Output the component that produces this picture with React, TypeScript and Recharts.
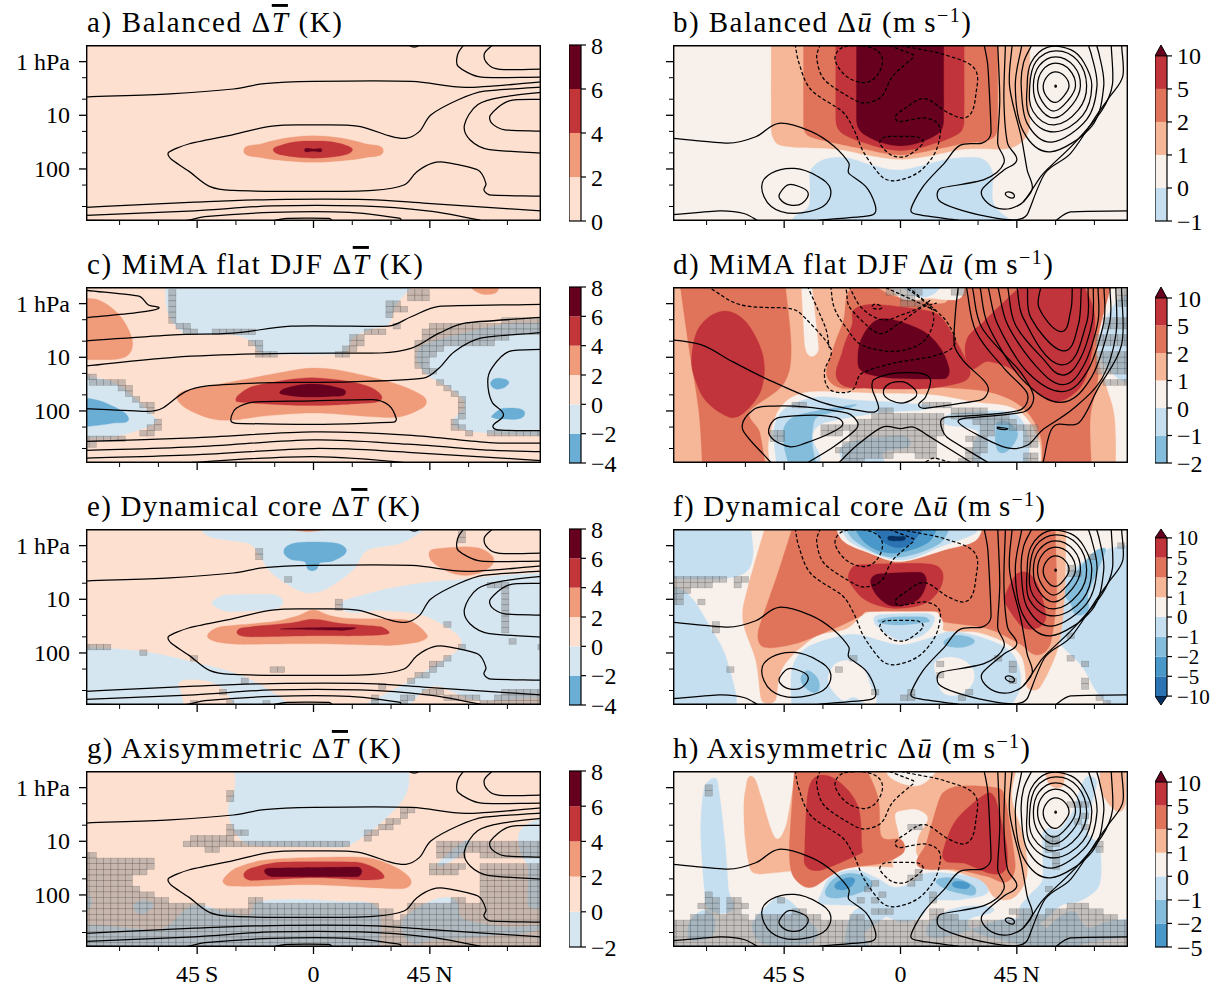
import React from 'react';
import { ScatterChart, Scatter, XAxis, YAxis, ComposedChart, Bar } from 'recharts';

type P = [number, number];
const FONT = '"Liberation Serif", serif';

/* ---------- colours ---------- */
const T_N4 = '#6aaed6', T_N2 = '#d6e6f0', T_0 = '#fde0d0', T_2 = '#f09c7b', T_4 = '#c23639', T_6 = '#67001f';
const U_M10 = '#053061', U_N10 = '#2b73b3', U_N5 = '#4a98c9', U_N2 = '#84bcdb', U_N1 = '#c6dff0', U_0 = '#f8f0eb', U_1 = '#f6b798', U_2 = '#e0745a', U_5 = '#c2343b', U_10 = '#67001f';

/* ---------- axis ticks ---------- */
const latTicks = [-75, -60, -45, -30, -15, 0, 15, 30, 45, 60, 75];
const levelTicks = [0, 0.3, 0.7, 1, 1.3, 1.7, 2, 2.3, 2.7];
const levelLabels: Record<number, string> = { 0: '1 hPa', 1: '10', 2: '100' };
const latLabels: Record<number, string> = { [-45]: '45\u2009S', 0: '0', 45: '45\u2009N' };
const FULL: P[] = [[-130, -1], [130, -1], [130, 4], [-130, 4]];
const FRAME: P[] = [[-88, -0.31], [88, -0.31], [88, 2.97], [-88, 2.97], [-88, -0.31]];

/* ---------- shared contours: temperature (a, e, g) ---------- */
const tA1: P[] = [[-88.4, .66], [-55.5, .6], [-31, .51], [-19, .41], [0, .37], [38, .37], [59, .48], [90, .37]];
const tA2: P[] = [[58.4, -.33], [55.8, -.14], [56, .09], [65, .29], [90, .29]];
const tA3: P[] = [[69.7, -.33], [66, -.13], [68.5, .09], [74, .15], [90, .14]];
const tA4: P[] = [[90, .47], [66, .55], [56, .71], [45.5, .99], [41, 1.3], [35.7, 1.43], [29, 1.38], [17, 1.2], [0, 1.18], [-16, 1.2], [-31, 1.36], [-48, 1.53], [-56, 1.69], [-55, 1.82], [-48, 2.05], [-40, 2.33], [-31, 2.4], [0, 2.42], [23, 2.4], [35, 2.3], [40, 2.05], [46, 1.89], [51.6, 1.88], [63.6, 2.02], [66.7, 2.27], [66, 2.4], [69, 2.49], [90, 2.51]];
const tA5: P[] = [[90, .56], [74.2, .65], [63.6, .8], [58.4, 1.18], [60.6, 1.46], [68, 1.64], [90, 1.71]];
const tA6: P[] = [[90, .7], [75.7, .73], [68.5, .99], [69, 1.15], [74, 1.27], [90, 1.3]];
const tA7: P[] = [[-90, 2.72], [-46, 2.62], [-16, 2.57], [21, 2.57], [44, 2.64], [90, 2.79]];
const tA8: P[] = [[-90, 2.87], [-46, 2.78], [-16, 2.69], [18, 2.69], [44, 2.78], [64, 2.95], [66, 3]];
const tA9: P[] = [[-90, 2.96], [-51, 2.97], [-42, 2.89], [-16, 2.81], [14, 2.81], [33.5, 2.92], [34, 3]];
const tA10: P[] = [[-19, 3], [-10, 2.92], [6, 2.92], [8, 3]];
const tA11: P[] = [[35.7, -.33], [39, -.27], [42, -.33]];
const tAContours = [tA1, tA2, tA3, tA4, tA5, tA6, tA7, tA8, tA9, tA10, tA11];

/* ---------- shared contours: wind (b, f, h) ---------- */
const uS1: P[] = [[-90, 1.42], [-66.7, 1.52], [-56, 1.4], [-47, 1.15], [-34.7, 1.3], [-25.6, 1.58], [-20, 1.89], [-20, 2.08], [-13.4, 2.33], [-10, 2.64], [-10, 2.83], [-15, 2.89], [-30, 2.95], [-36, 3]];
const uS1b: P[] = [[-90, 2.86], [-70, 2.78], [-60.6, 2.83], [-54, 3]];
const uS2: P[] = [[32.3, -.33], [33.8, .09], [35, 1.33], [31.5, 1.52], [23, 1.56], [17, 1.89], [8.7, 2.33], [4, 2.77], [8, 2.86], [21.6, 2.95], [26, 3]];
const uS3: P[] = [[-53.7, 2.33], [-50, 2.08], [-41, 1.99], [-32, 2.14], [-27, 2.39], [-30, 2.7], [-41, 2.83], [-50, 2.7]];
const uS4: P[] = [[-46.6, 2.45], [-43, 2.29], [-36, 2.42], [-38, 2.64], [-43, 2.67], [-46.6, 2.56]];
const uS5: P[] = [[37.6, -.33], [38.4, .71], [37.6, 1.52], [40, 1.89], [32.3, 2.2], [15.5, 2.36], [14.8, 2.58], [21.6, 2.74], [33.8, 2.89], [44, 2.95], [49, 2.85], [55.9, 2.08], [65.8, 1.71], [76.4, .96], [81, .65], [86, .27], [85.5, -.33]];
const uS6: P[] = [[40.6, -.33], [40, .71], [41.4, 1.52], [45, 1.83], [40, 2.02], [31.5, 2.39], [33.8, 2.64], [40, 2.75], [46, 2.67], [49, 2.52], [54.3, 2.14], [57.3, 1.98], [67.3, 1.52], [78, .9], [82, .42], [81.5, -.33]];
const uS7: P[] = [[43.2, -.33], [42.2, .46], [46.7, 1.4], [49, 2.02], [51, 2.36], [47.5, 2.62]];
const uJ1: P[] = [[55.2, .45], [57, .26], [60, .19], [63.5, .27], [65.2, .45], [63.5, .62], [60, .76], [56.5, .65]];
const uJ2: P[] = [[53, .45], [55, .16], [60, .03], [65.5, .16], [67.7, .45], [65, .71], [59.5, .92], [54.8, .74]];
const uJ3: P[] = [[51.4, .45], [53.6, .08], [60, -.09], [67, .08], [69.6, .45], [66.5, .8], [59.5, 1.05], [53.3, .83]];
const uJ4: P[] = [[50, .45], [52.4, 0], [60, -.2], [68.5, -.02], [72, .45], [68.8, .9], [59.5, 1.18], [51.3, .93]];
const uJ5: P[] = [[49, .45], [50.5, .02], [57, -.27], [66, -.22], [71, .02], [74, .45], [70.5, 1], [59.5, 1.31], [50, 1.02]];
const uJ6: P[] = [[51, -.33], [47.6, .02], [46.7, .46], [49, 1.15], [58.5, 1.5], [72, 1.08], [76, .46], [74, -.1], [72.5, -.33]];
const uJ7: P[] = [[47, -.33], [44.4, .46], [47.5, 1.3], [58, 1.68], [74, 1.2], [78.6, .46], [77, -.1], [75.7, -.33]];
const uTiny: P[] = [[40.6, 2.45], [43, 2.44], [44, 2.52], [42, 2.53]];
const uDot: P[] = [[59.8, .44], [60.2, .44], [60.2, .47], [59.8, .47]];
const uS8: P[] = [[59, 3], [65.8, 2.8], [90, 2.78]];
const uD1: P[] = [[-40.8, -.33], [-39.3, .02], [-34.7, .52], [-22.5, .93], [-18, 1.27], [-14, 1.71], [-7.3, 2.14], [-2, 2.22], [6.4, 2.08], [12.5, 1.77], [15, 1.46], [14.8, 1.18], [9.4, 1.05], [-.5, 1.12], [-2, 1.02], [1.8, .87], [9.4, .69], [18.6, .96], [26.2, 1.02], [29.2, .59], [28.5, .12], [17, -.13], [6.4, -.24], [-2.7, -.33]];
const uD2: P[] = [[-31, -.33], [-32.4, -.07], [-29.4, .34], [-18, .71], [-13.4, .77], [-7.3, .65], [-3, .27], [4.9, -.07], [4.9, -.13], [-5.8, -.33]];
const uD3: P[] = [[-25.3, -.04], [-22.5, -.26], [-13.4, -.29], [-7.3, -.1], [-8.8, .24], [-14, .39], [-21, .27]];
const uD4: P[] = [[-8, 1.52], [-5.8, 1.4], [6.4, 1.4], [8.7, 1.52], [3.3, 1.74], [-.5, 1.78], [-4.3, 1.72]];
const uOpen = [uS1, uS1b, uS2, uS5, uS6, uS7, uJ6, uJ7, uS8];
const uClosed = [uS3, uS4, uJ1, uJ2, uJ3, uJ4, uJ5, uTiny, uDot];
const uDashOpen = [uD1, uD2];
const uDashClosed = [uD3, uD4];

/* ---------- panel a ---------- */
const a2: P[] = [[-27, 1.66], [-20, 1.53], [-10, 1.42], [0, 1.38], [10, 1.42], [20, 1.53], [27, 1.66], [20, 1.79], [10, 1.85], [0, 1.875], [-10, 1.85], [-20, 1.79]];
const a4: P[] = [[-15.5, 1.66], [-12, 1.55], [-6, 1.49], [0, 1.48], [6, 1.49], [12, 1.55], [15, 1.66], [10, 1.76], [0, 1.8], [-10, 1.76]];
const a6: P[] = [[-3.5, 1.65], [0, 1.63], [3.3, 1.65], [0, 1.67]];

/* ---------- panel b ---------- */
const bN1: P[] = [[-44, 3.05], [-40, 2.85], [-35.5, 2.7], [-35, 2.3], [-34.7, 2.02], [-29.4, 1.82], [-21, 1.79], [-11, 1.93], [-1, 2.02], [9, 1.93], [19, 1.81], [31, 1.8], [35.6, 2.06], [36, 2.64], [43, 2.96], [46, 3.05]];
const b1: P[] = [[-50, -.5], [-50, 1.2], [-49.5, 1.4], [-47, 1.55], [-40, 1.6], [-25, 1.63], [-12, 1.75], [0, 1.82], [12, 1.75], [25, 1.63], [40, 1.63], [46, 1.53], [49.5, 1.3], [50, 1], [50, -.5]];
const b2: P[] = [[-37.5, -.5], [-37.5, 1.2], [-36, 1.37], [-30, 1.47], [-15, 1.62], [0, 1.74], [15, 1.62], [25, 1.52], [33, 1.48], [37, 1.35], [37.6, 1], [37.6, -.5]];
const b5: P[] = [[-25, -.5], [-25, 1.1], [-23, 1.32], [-15, 1.5], [0, 1.66], [15, 1.5], [23, 1.32], [24.6, 1.1], [24.6, -.5]];
const b10: P[] = [[-17, -.5], [-17, 1.1], [-15, 1.32], [-8, 1.5], [0, 1.57], [8, 1.5], [15, 1.32], [16.7, 1.1], [16.7, -.5]];

/* ---------- panel c ---------- */
const c2UL: P[] = [[-100, -.11], [-85, -.09], [-78, .08], [-73, .35], [-70, .7], [-71.5, .95], [-77, 1.04], [-100, 1.05]];
const c2Top: P[] = [[60, -.5], [61, -.3], [64, -.2], [67, -.17], [71, -.22], [73, -.5]];
const cNTop: P[] = [[-57.3, -.5], [-57, 0], [-55, .3], [-49.5, .55], [-31, .58], [-24, .7], [-21, .89], [-16, .95], [11, .94], [15.4, .64], [22, .48], [29, .38], [31.5, .05], [37.5, -.3], [38, -.5]];
const cNL: P[] = [[-100, 1.36], [-88, 1.36], [-77, 1.48], [-69, 1.76], [-62, 2.1], [-60.5, 2.2], [-66, 2.33], [-78, 2.48], [-100, 2.49]];
const cN2L: P[] = [[-100, 1.76], [-88, 1.76], [-79, 1.88], [-71.5, 2.14], [-78, 2.23], [-88, 2.29], [-100, 2.3]];
const cNR: P[] = [[100, .36], [88, .36], [74, .39], [57.6, .55], [42.5, .77], [40, 1.02], [44, 1.33], [53, 1.58], [58.4, 1.89], [54, 2.2], [59, 2.36], [70, 2.42], [100, 2.48]];
const cN2a: P[] = [[68.5, 1.48], [71, 1.39], [75.4, 1.44], [74, 1.56], [70.4, 1.59]];
const cN2b: P[] = [[69, 2.09], [73.5, 1.95], [81.7, 2.06], [72.7, 2.15], [69, 2.12]];
const c2: P[] = [[-52.8, 1.76], [-49.5, 1.62], [-31, 1.45], [-10, 1.26], [0, 1.2], [11, 1.25], [29, 1.45], [39.5, 1.64], [43.7, 1.83], [39.5, 2.01], [32, 2.12], [20, 2.1], [0, 2.04], [-20, 2.1], [-31, 2.17], [-40, 2.14], [-49, 1.96]];
const c4: P[] = [[-29.6, 1.73], [-24, 1.55], [-10, 1.42], [0, 1.38], [14, 1.45], [23, 1.58], [26.2, 1.79], [18, 1.86], [0, 1.9], [-18, 1.87], [-29.6, 1.83]];
const c6: P[] = [[-13, 1.64], [-7, 1.53], [0, 1.5], [8, 1.55], [12.4, 1.67], [6.3, 1.73], [-2.7, 1.74], [-9.5, 1.71]];
const cC1: P[] = [[-90, -.26], [-67.6, -.14], [-64, .02], [-60, .09], [-69, .17], [-90, .27]];
const cC2: P[] = [[-90, .7], [-54, .58], [-31, .55], [-8.7, .42], [29, .42], [38, .24], [48.6, .05], [90, .01]];
const cC3: P[] = [[-90, 1.17], [-54, 1], [-16, .93], [26, .92], [38, .83], [48.6, .55], [59, .36], [90, .25]];
const cC4: P[] = [[-90, 1.95], [-64.6, 2.01], [-58.5, 1.95], [-49.5, 1.64], [-40.4, 1.53], [-16, 1.47], [14, 1.46], [42.5, 1.39], [48.6, 1.2], [54.6, .89], [65, .64], [90, .53]];
const cC5: P[] = [[90, .85], [75.7, .89], [69, 1.2], [67.4, 1.45], [69, 1.83], [73.5, 2.07], [69.4, 2.29], [74, 2.36], [90, 2.37]];
const cC6: P[] = [[-32, 2.17], [-29.9, 1.95], [-22.3, 1.83], [0, 1.81], [23, 1.79], [29, 1.89], [32, 2.14], [31, 2.21], [0, 2.25], [-29.9, 2.23]];
const cC7: P[] = [[-90, 2.57], [-46.5, 2.5], [0, 2.39], [36.5, 2.45], [68, 2.59], [90, 2.6]];
const cC8: P[] = [[-90, 2.74], [-46.5, 2.67], [0, 2.54], [36.5, 2.62], [68, 2.73], [90, 2.76]];
const cC9: P[] = [[-90, 2.88], [-46.5, 2.82], [0, 2.7], [36.5, 2.77], [90, 2.93]];
const cC10: P[] = [[-50, 3], [-46.5, 2.96], [0, 2.85], [39.5, 2.98], [44, 3]];
const cMask: number[][] = [
  [-.25, -56, -56, 38, 42], [-.15, -56, -56, 38, 42], [-.04, -56, -56, 30, 32], [.06, -56, -56, 30, 36], [.17, -56, -56, 30, 30], [.27, -54, -54], [.33, 74, 88],
  [.38, -52, -48, 31, 31], [.44, 46, 88], [.48, -50, -46, 22, 27], [.55, 44, 88], [.57, -38, -24, 22, 26], [.65, 42, 75, 16, 18], [.76, 40, 68, 15, 17, -24, -22], [.86, 40, 50, -20, -20, 12, 14], [.97, 40, 46, -20, -15, 10, 12],
  [1.07, 40, 44], [1.18, 40, 44], [1.28, 42, 46], [1.39, -88, -84], [1.44, -84, -74, 50, 50], [1.55, -74, -70, 53, 53], [1.65, -70, -70, 55, 55], [1.76, -68, -68, 56, 56], [1.86, -65, -64, 58, 58], [1.97, -62, -62, 58, 58], [2.07, 56, 56], [2.18, -59, -59, 54, 54], [2.29, -62, -60, 54, 56], [2.39, -66, -64, 59, 60], [2.46, 68, 88], [2.5, -88, -75], [2.6, -88, -84],
];

/* ---------- panel d ---------- */
const d2L: P[] = [[-85.7, -.5], [-82, .77], [-78, 2.01], [-76.6, 3.1], [-52, 3.1], [-54.5, 2.39], [-58.3, 2.01], [-45, 1.48], [-42.3, .77], [-45, -.5]];
const d5L: P[] = [[-80.8, 1.02], [-78, .45], [-69, .14], [-60, .33], [-53.3, .95], [-53.7, 1.58], [-60, 2.01], [-66, 2.12], [-75, 1.83], [-79.6, 1.39]];
const d0C: P[] = [[-50, 3.1], [-51, 2.6], [-46.4, 1.93], [-36, 1.65], [-10, 1.67], [11.6, 1.7], [28, 1.83], [45, 1.98], [53.4, 2.54], [54, 3.1]];
const d0S: P[] = [[-38.5, -.5], [-37, .77], [-34.7, .98], [-31.7, .83], [-34.7, -.5]];
const d0R: P[] = [[80.2, -.5], [77, .5], [76.4, 1], [79.4, 1.5], [82.5, 2], [83.3, 2.5], [83.3, 3.1], [100, 3.1], [100, -.5]];
const dN1R: P[] = [[100, -.17], [87.8, -.17], [81, .14], [76.4, .7], [78, 1.08], [84, 1.39], [87.8, 1.45], [100, 1.45]];
const d2C: P[] = [[-28.6, 1.33], [-25.6, .77], [-22, .3], [-19.5, -.26], [-10, -.3], [-2.7, -.14], [17, -.01], [18.6, -.5], [82.5, -.5], [75.6, .77], [76.4, 1.39], [73.4, 2.14], [74, 3.1], [54.3, 3.1], [54.3, 2.51], [47.5, 1.95], [33.8, 1.64], [9.4, 1.55], [-5.8, 1.55], [-22.5, 1.58]];
const d5C: P[] = [[-24, 1.45], [-22.5, .89], [-18.7, .39], [-18, .11], [-10.4, .01], [8, .11], [15.5, .24], [22.4, .77], [27, 1.26], [24.6, 1.45], [11, 1.58], [-12, 1.58]];
const d10C: P[] = [[-16.4, 1.14], [-15, .64], [-7.3, .28], [8, .49], [15.5, .83], [18.9, 1.23], [17, 1.4], [-2.7, 1.39], [-13.4, 1.3]];
const d5R: P[] = [[25.4, .7], [32.3, .33], [44.4, -.23], [52, -.5], [68.8, -.5], [74.9, .14], [74, .89], [70.3, 1.51], [61.2, 1.83], [53.6, 1.7], [44.4, 1.26], [33.8, 1.08], [27, 1.2]];
const d0Top: P[] = [[-6.5, -.5], [.3, -.1], [11, -.1], [23, -.1], [24.6, -.5]];
const dN1Top: P[] = [[-2.7, -.5], [4.9, -.15], [12.5, -.17], [18.6, -.5]];
const dN1L: P[] = [[-47.6, 3.1], [-49, 2.35], [-44.5, 1.95], [-32, 1.74], [-16.6, 1.8], [1.2, 1.85], [11.6, 1.95], [-9, 2.04], [-30, 2.23], [-34, 2.48], [-31, 2.85], [-32, 3.1]];
const dN1Rb: P[] = [[16.6, 2.17], [26, 2.02], [43.7, 2.04], [49.5, 2.49], [49, 3.1], [28, 3.1], [28.3, 2.6], [30, 2.4], [25, 2.3]];
const dN2L: P[] = [[-45, 2.67], [-45, 2.3], [-40, 2.08], [-24.4, 1.93], [-17.4, 1.9], [-32, 2.11], [-34, 2.35], [-34, 2.67], [-32, 3.1], [-42.5, 3.1]];
const dN2R: P[] = [[36.8, 2.35], [37.6, 2.2], [41.4, 2.2], [45.3, 2.41], [42.6, 2.69], [38.7, 2.78], [36.8, 2.6]];
const dN1B: P[] = [[-23, 2.67], [-7.7, 2.49], [3.9, 2.58], [-6.6, 2.77], [-3.9, 3.1], [-20.5, 3.1]];
const dE1: P[] = [[-90, .66], [-77, .77], [-65, 1.08], [-51, 1.42], [-29.8, 1.85], [-12.4, 2.02], [-8.5, 1.95], [-10.8, 1.61], [-10.4, 1.42], [-2.7, 1.3], [8, 1.3], [11.6, 1.42], [9.7, 1.74], [7, 1.89], [9.7, 1.95], [31, 1.8], [34, 1.61], [32, 1.42], [24.6, 1.08], [20.8, .77], [21.3, .14], [22.4, -.33]];
const dE2: P[] = [[-6.6, 1.67], [-4.6, 1.5], [1.2, 1.46], [5.8, 1.61], [5.8, 1.74], [1.2, 1.85], [-3.9, 1.8]];
const dE3: P[] = [[-49.6, 2.99], [-61, 2.35], [-57, 1.98], [-49, 1.91], [-36, 1.93], [-20.5, 2.04], [-16.6, 2.21], [-17.4, 2.35], [-26, 2.67], [-36.8, 2.99]];
const dE3b: P[] = [[-24.4, 2.99], [-16.6, 2.63], [-7, 2.3], [0, 2.33], [5, 2.3], [10.4, 2.45], [28.3, 2.99]];
const dE4: P[] = [[-51, 2.35], [-47.6, 2.13], [-33.7, 2.08], [-24.4, 2.13], [-22.4, 2.26], [-27, 2.41], [-36.8, 2.6], [-42.5, 2.67], [-49, 2.54]];
const dU1: P[] = [[54.3, -.33], [53.6, .08], [61.9, .52], [65.8, .14], [66.5, -.33]];
const dU2: P[] = [[49, -.33], [50.5, .27], [62.7, .88], [68.8, .39], [70, -.33]];
const dU3: P[] = [[45, -.33], [47.5, .27], [62, 1.14], [71.8, .39], [72.6, -.33]];
const dU4: P[] = [[41.4, -.33], [44.4, .39], [55, 1.02], [62.7, 1.33], [69.6, 1.02], [74.2, .33], [74.6, -.33]];
const dU5: P[] = [[37.6, -.33], [41.4, .39], [52, 1.14], [62.7, 1.51], [71, 1.14], [76.4, .33], [76.4, -.33]];
const dU6: P[] = [[33.8, -.33], [37.6, .39], [49, 1.27], [62.7, 1.64], [72.6, 1.23], [78.7, .33], [78.7, -.33]];
const dU7: P[] = [[30.7, -.33], [33.8, .39], [46.7, 1.39], [62, 1.84], [74, 1.36], [81, .33], [81, -.33]];
const dE7: P[] = [[25.4, -.33], [29.2, .52], [40, 1.2], [49, 1.67], [46.4, 1.98], [31, 2.08], [18, 2.11], [15.5, 2.21], [18, 2.49], [34.8, 2.99]];
const dE8: P[] = [[27.7, -.33], [31.5, .45], [46, 1.25], [51.5, 1.74], [47.6, 2.02], [26, 2.13], [22.4, 2.21], [30, 2.45], [41.4, 2.69], [49, 2.64], [55, 2.35], [67, 1.95], [78, 1.39], [83.3, .58], [83.3, -.33]];
const dE9: P[] = [[85.5, -.33], [85.5, .77], [76.4, 1.58], [69, 2.22], [59, 2.3], [55, 2.99]];
const dTiny: P[] = [[37.6, 2.3], [41.4, 2.33], [40.6, 2.35], [37.6, 2.33]];
const dF1: P[] = [[-75, -.33], [-62, .02], [-45, .08], [-39, .17], [-27, .83], [-29.4, 1.26], [-27.8, 1.58], [-21.8, 1.66], [-18, 1.58], [-15, 1.3], [-2.7, 1.11], [12.5, .98], [20.8, .77], [18.6, .39], [13.2, .11], [4.9, -.23], [3, -.33]];
const dF2: P[] = [[-27, -.33], [-25.6, .08], [-21, .45], [-15, .77], [-2.7, .89], [8, .74], [12.5, .39], [11.7, .08], [3.3, -.26], [1, -.33]];
const dF3: P[] = [[-36, -.33], [-29, .45], [-27.5, .83]];
const dF4: P[] = [[-21, -.26], [-19.5, .08], [-8.8, .55], [-1.2, .39], [8, .08], [14, -.01]];
const dF5: P[] = [[-20, -.33], [-15, .08], [-7, .3], [1, .2], [8, .06], [12, -.08]];
const dF6: P[] = [[-11, .05], [-9.6, .01], [-7.3, .08], [-10.4, .09]];
const dF7: P[] = [[-5.8, -.3], [3.3, -.1], [14, .14]];
const dF8: P[] = [[9.7, 2.95], [13, 2.88], [20, 2.97]];
const dMask: number[][] = [
  [-.25, -3, 8, 20, 24, 84, 88], [-.15, 0, 3, 84, 88], [-.03, 0, 8, 84, 88], [.05, 0, 8, 84, 88], [.3, 80, 88], [.4, 80, 88], [.6, 76, 88], [.7, 76, 88], [.9, 78, 88], [1, 78, 88], [1.1, 78, 88], [1.2, 78, 88], [1.3, 78, 88], [1.42, 80, 87],
  [1.87, -40, -38, 10, 18], [1.98, -6, -5, 21, 32], [2.09, -9.7, 14, 20, 40], [2.19, -16.6, 14, 30, 44], [2.3, -30, 14, 32, 35, 44, 51], [2.41, -49, -46, -30, -24, -18, 14, 32, 35, 48, 51], [2.51, -49, -46, -19, 13, 26, 32, 48, 51], [2.62, -22, 13, 28, 32, 48, 51], [2.72, -24, 13, 26, 32], [2.83, -20, -4, 8, 13, 26, 30, 48, 51], [2.93, -20, -16, 23, 30, 48, 51],
];

/* ---------- panel e ---------- */
const eNTop: P[] = [[-46.5, -.5], [-40.4, -.17], [-25, -.04], [-21, .17], [-16, .52], [-6, .83], [0, .88], [6.3, .77], [15.4, .45], [21, .08], [35, -.07], [48.6, -.5]];
const e2Top: P[] = [[-12, -.4], [-2, -.26], [8, -.4]];
const eN2Top: P[] = [[-11.5, .1], [-8, -.04], [0, -.07], [9.4, -.04], [12.7, .11], [7.8, .28], [2.6, .32], [1, .45], [-2, .45], [-3.5, .3], [-8.7, .26]];
const e2R: P[] = [[45.5, .08], [59, .02], [66, .08], [69.7, .3], [63.6, .52], [54.6, .53], [45.9, .3]];
const eNM: P[] = [[-39.2, 1.05], [-34.4, .92], [-16, .91], [-11.8, 1.05], [-16, 1.19], [-33, 1.23], [-38, 1.14]];
const eNR: P[] = [[11, 1.17], [21.4, .89], [41, .7], [59, .62], [74, .55], [100, .5], [100, 2.82], [88, 2.82], [63.6, 2.88], [48.6, 2.62], [42.5, 2.7], [35, 3.1], [15, 3.1], [23, 2.88], [36.5, 2.54], [50, 2.14], [57, 1.89], [55.4, 1.64], [42.5, 1.3], [26.7, 1.21]];
const eNL: P[] = [[-100, 1.89], [-88, 1.89], [-64.6, 1.98], [-46.5, 2.17], [-28, 2.42], [-13, 2.82], [-7, 3.1], [-100, 3.1]];
const ePatch: P[] = [[-51.7, 2.54], [-43.4, 2.51], [-35.9, 2.64], [-31, 2.95], [-30, 3.1], [-49.5, 3.1], [-51, 2.76]];
const e2: P[] = [[-41, 1.67], [-36, 1.51], [-16, 1.42], [-5.7, 1.3], [0, 1.2], [6.3, 1.3], [14, 1.36], [36.5, 1.39], [44, 1.67], [41, 1.79], [29, 1.86], [0, 1.83], [-28, 1.84], [-37.7, 1.79]];
const e4: P[] = [[-29.6, 1.6], [-24, 1.51], [-8.7, 1.44], [0, 1.37], [11, 1.45], [26, 1.51], [29, 1.64], [17, 1.68], [0, 1.68], [-25, 1.7]];
const e6: P[] = [[-12.5, 1.55], [-1, 1.53], [16, 1.53], [11, 1.58], [-7, 1.56]];
const eMask: number[][] = [
  [-.25, 56, 56], [-.15, 56, 56], [.1, -20, -20], [.2, -20, -20], [.65, -11, -11], [.75, 69, 74], [.85, 74, 74], [.95, 74, 74], [1.05, 11, 11, 74, 74], [1.15, 11, 11, 74, 74], [1.26, 74, 74], [1.37, 74, 74], [1.47, 74, 74], [1.5, 53, 53], [1.6, 74, 74], [1.75, 78, 78],
  [1.89, -88, -81, 58, 58, 87, 87], [1.97, -65, -65], [2.1, 53, 53], [2.15, -46, -46], [2.2, 47, 50], [2.3, 45, 47], [2.35, -16, -13], [2.4, 43, 43], [2.45, 40, 40], [2.5, -28, -28, 37, 37], [2.65, 27, 27], [2.7, -34, -34, 80, 88], [2.75, 42, 50, 75, 88], [2.8, 25, 25], [2.85, 36, 39, 52, 64, 70, 88], [2.95, -47, -47, -33, -33, -17, -17, 24, 24, 36, 36, 65, 88],
];

/* ---------- panel f ---------- */
const fNL1: P[] = [[-100, -.5], [-58.5, -.5], [-57, .14], [-60, .5], [-70, .62], [-100, .62]];
const fNL2: P[] = [[-100, .8], [-86, .8], [-80, 1.02], [-72.8, 1.58], [-68, 2.01], [-63.6, 2.76], [-63.6, 3.1], [-100, 3.1]];
const fNR: P[] = [[100, 0], [86, 0], [76, .15], [68, .4], [63, .7], [61, 1.2], [59, 1.6], [63, 1.9], [70.3, 2.26], [76.4, 2.76], [84, 3.1], [100, 3.1]];
const fN2R: P[] = [[63.5, .89], [66.5, .58], [75, .11], [79.4, .08], [72.6, .89], [72.6, 1.2], [68, 1.29], [65.8, 1.08]];
const f1: P[] = [[-51.4, -.5], [-59, .77], [-61, 1.39], [-56, 2.14], [-53.7, 2.88], [-48.4, 2.88], [-45.4, 2.26], [-33, 1.7], [-21, 1.55], [-12, 1.23], [14, 1.23], [17, 1.58], [32, 1.64], [46, 2.01], [49, 2.64], [54, 2.64], [61, 1.89], [63.5, .89], [64, -.5]];
const f2: P[] = [[-40.8, -.5], [-47, .45], [-55, 1.58], [-53, 1.89], [-40.8, 1.83], [-24, 1.51], [-15, 1.3], [-13.4, 1.23], [14, 1.23], [16.3, 1.42], [33.8, 1.55], [46, 1.83], [52.8, 2.04], [58, 1.83], [60.4, .95], [59.7, -.5]];
const f5: P[] = [[-20, .52], [-17, .36], [6.4, .33], [15.3, .42], [15.6, .77], [9.4, 1.08], [-2.7, 1.17], [-13.4, 1.02], [-19.5, .7]];
const f10: P[] = [[-11.6, .67], [-8.8, .53], [8, .5], [10, .7], [6.4, 1.02], [-2.7, 1.13], [-8.8, .95]];
const f5R: P[] = [[40.3, .95], [44.4, .55], [49, .5], [53, .72], [55.5, 1.1], [56, 1.4], [52, 1.55], [47, 1.51], [41.4, 1.15]];
const fW1: P[] = [[-25.6, -.5], [-22.5, -.1], [-11.9, .14], [0, .3], [17, .08], [29.2, -.1], [32.3, -.5]];
const fB1: P[] = [[-24.3, -.5], [-19.5, -.07], [-.5, .27], [15.5, .02], [29, -.23], [30, -.5]];
const fB2: P[] = [[-22.5, -.5], [-18, -.1], [-2.7, .22], [15.2, -.04], [20, -.5]];
const fB5: P[] = [[-19.5, -.5], [-13.4, -.04], [-2.7, .14], [11, -.07], [15, -.5]];
const fB10: P[] = [[-12.5, -.5], [-5.8, -.04], [3.3, -.01], [11, -.5]];
const fB11: P[] = [[-5, -.14], [-1.2, -.17], [2, -.14], [-1.2, -.09]];
const fW2: P[] = [[-16, 1.5], [-12, 1.26], [0, 1.25], [13, 1.25], [16.5, 1.5], [12, 1.7], [0, 1.82], [-12, 1.7]];
const fM1: P[] = [[-10.3, 1.36], [-5.8, 1.28], [9.4, 1.26], [13.2, 1.36], [9.4, 1.64], [.3, 1.76], [-7.3, 1.58]];
const fM2: P[] = [[-8.8, 1.39], [-2.7, 1.33], [9.4, 1.33], [11, 1.42], [.3, 1.48], [-7.3, 1.45]];
const fLow: P[] = [[-42, 2.3], [-36, 1.89], [-21, 1.66], [-12, 1.7], [0, 1.85], [12, 1.7], [20, 1.6], [32, 1.72], [42, 1.95], [46, 2.3], [46, 2.7], [41, 3.1], [-42, 3.1]];
const fWL: P[] = [[-27.8, 2.57], [-26.3, 2.26], [-21, 2.14], [-15, 2.26], [-11.9, 2.57], [-10, 2.95], [-18, 2.82], [-22.5, 2.88]];
const fWR: P[] = [[14, 2.14], [23, 2.11], [28.5, 2.39], [24.7, 2.73], [17, 2.76], [14, 2.45]];
const fML: P[] = [[-38.5, 2.45], [-35.5, 2.33], [-31.7, 2.51], [-32.4, 2.73], [-37, 2.64]];
const fMR: P[] = [[16.7, 1.79], [21.6, 1.67], [28.5, 1.76], [24.7, 1.89], [18.6, 1.88]];
const fMask: number[][] = [
  [0, 86, 86], [.2, 74, 74], [.45, 66, 66], [.55, 66, 68], [.64, -88, -68, -62, -60], [.72, -88, -75, -62, -62], [.83, -88, -82], [.92, -88, -84], [1.02, -88, -84], [1.05, -78, -78], [1.45, -72, -72], [1.6, -70, -70], [1.7, 66, 66],
  [2.05, 39, 39], [2.1, 67, 67], [2.14, -17, -17], [2.2, 16, 16, 42, 42], [2.25, 70, 70], [2.28, -65, -65, -25, -25], [2.35, 44, 44], [2.45, 15, 15], [2.5, 42, 42, 72, 72], [2.65, 72, 72], [2.7, -11, -11, 27, 27], [2.75, 4, 4], [2.8, 0, 3], [2.85, 0, 0, 25, 25, 76, 76], [2.9, 80, 80],
];

/* ---------- panel g ---------- */
const gNTop: P[] = [[-31, -.5], [-30.3, -.02], [-33, .41], [-30, .85], [-24, 1.07], [6.3, 1.11], [14, 1.07], [26, .66], [36, .1], [36.5, -.5]];
const gNLow: P[] = [[-100, 2.6], [-85, 2.56], [-70, 2.62], [-58, 2.62], [-47, 2.2], [-35, 2.3], [-25, 2.38], [-22, 2.13], [-7, 2.08], [10, 2.12], [23, 2.17], [26, 2.55], [25, 3.1], [-100, 3.1]];
const gNR: P[] = [[34, 2.55], [40, 2.25], [48.6, 2.06], [55, 2.1], [57, 2.4], [62, 2.5], [75, 2.6], [88, 2.62], [70, 2.75], [45, 2.85], [38, 2.9]];
const gNRU: P[] = [[100, .55], [88, .58], [80, .8], [80, 1.2], [83, 1.5], [83, 2.2], [88, 2.25], [100, 2.25]];
const gNM: P[] = [[48, 1.41], [56, 1.07], [60.6, 1], [56, 1.28], [49, 1.47]];
const gNE: P[] = [[-100, 1.95], [-87, 2], [-87, 2.25], [-100, 2.3]];
const gNB: P[] = [[-69, 2.15], [-65, 2.1], [-62, 2.2], [-66, 2.35], [-69, 2.3]];
const g2: P[] = [[-35, 1.72], [-30, 1.5], [-19, 1.35], [0, 1.3], [21.4, 1.31], [33.5, 1.53], [37.5, 1.81], [29, 1.88], [0, 1.81], [-24, 1.84], [-33, 1.83]];
const g4: P[] = [[-27, 1.63], [-24, 1.5], [-13, 1.39], [17, 1.39], [25, 1.53], [27, 1.69], [18.4, 1.72], [0, 1.68], [-24, 1.73]];
const g6: P[] = [[-19, 1.56], [-16.3, 1.5], [17, 1.48], [18.7, 1.56], [17, 1.66], [-16, 1.66]];
const gMask: number[][] = [
  [.1, -31, -31], [.2, -31, -31], [.45, 36, 38], [.55, 34, 36], [.65, 30, 33], [.7, -31, -31], [.75, 27, 30], [.8, -31, -28], [.85, 22, 25], [.9, -46, -31], [.95, 20, 22], [1, -46, -27, 55, 88], [1.1, -48, -28, -24, 13, 50, 88], [1.2, -42, -39, 48, 88],
  [1.25, -88, -86], [1.3, 48, 58, 66, 88], [1.35, -88, -64], [1.45, -88, -64, 47, 58, 66, 88], [1.55, -88, -66, 47, 55, 66, 88], [1.65, -88, -70, 66, 88], [1.75, -88, -70, 66, 88], [1.85, -88, -68, 66, 88], [1.95, -88, -62, 66, 88], [2.05, -88, -58, -24, -22, 55, 58, 66, 88],
  [2.2, -88, -43, -24, 24, 38, 88], [2.31, -88, 28, 38, 88], [2.42, -88, 28, 34, 88], [2.52, -88, 88], [2.62, -88, 88], [2.73, -88, 88], [2.83, -88, 88], [2.94, -88, 88],
];

/* ---------- panel h ---------- */
const h1: P[] = [[-60.6, .4], [-60, .05], [-57.5, -.21], [-54, .16], [-48.4, .94], [-44, .66], [-40, -.5], [-8, -.5], [-3, -.15], [8, -.05], [17, -.5], [46, -.5], [43, .16], [47.5, .91], [49, 1.6], [44.4, 2.03], [37, 2.06], [32, 1.78], [20, 1.55], [5, 1.5], [-15, 1.47], [-30, 1.5], [-54, 1.61], [-58, 1.53], [-60, 1]];
const hW: P[] = [[-2, .5], [2, .42], [7, .42], [10.5, .58], [7, .9], [6, 1.2], [8, 1.4], [6.4, 1.6], [-.5, 1.6], [-3, 1.4], [0, 1.2], [-.5, .9]];
const h2L: P[] = [[-40.8, -.5], [-43, 1.1], [-42, 1.6], [-37.5, 1.84], [-33, 1.84], [-22.5, 1.53], [-7.3, 1.41], [1, 1.22], [.3, .97], [-7.3, .91], [-8.8, .16], [-15, -.5]];
const h5L: P[] = [[-37, 1.1], [-36, .16], [-32.4, -.21], [-24, -.12], [-16.4, .35], [-15, 1.1], [-15, 1.22], [-30, 1.53], [-36.5, 1.47]];
const h2R: P[] = [[7, 1.47], [10, 1.03], [15.5, .16], [21.6, -.02], [33, -.02], [40, .1], [44.4, 1.41], [41.4, 1.75], [33.8, 1.66], [21.6, 1.53]];
const h5R: P[] = [[16.3, 1.22], [21.6, .6], [33.8, .1], [37.6, .35], [40.6, 1.53], [24.7, 1.41], [17.8, 1.38]];
const hStrip: P[] = [[-75.8, -.02], [-71, -.15], [-68, .95], [-66.5, 1.91], [-65, 2.28], [-74, 2.28], [-75.8, 1.91], [-77.3, .79]];
const hB1: P[] = [[-31, 2.16], [-30, 1.9], [-27, 1.66], [-18, 1.53], [-9, 1.69], [-3, 1.85], [3, 1.8], [9.4, 1.6], [20, 1.6], [30.7, 1.72], [33.5, 1.97], [23, 2.09], [12.5, 2.12], [8, 2.4], [0, 2.5], [-10, 2.3], [-18, 2.2]];
const hB2L: P[] = [[-29, 1.91], [-25.5, 1.69], [-18, 1.6], [-11, 1.78], [-16.5, 1.97], [-24, 2.06], [-28.4, 2.03]];
const hB5L: P[] = [[-25.5, 1.84], [-22.5, 1.71], [-18, 1.69], [-19, 1.84], [-22.5, 1.91]];
const hB2R: P[] = [[14, 1.72], [21.6, 1.69], [28.5, 1.84], [28.5, 2], [23, 1.97], [17, 1.88]];
const hB5R: P[] = [[20, 1.79], [23.8, 1.75], [26.8, 1.84], [23, 1.88]];
const hP1: P[] = [[-81, 2.45], [-74, 2.3], [-72, 2.7], [-78, 2.85], [-82, 2.8]];
const hP2: P[] = [[-57, 2.5], [-48, 2.05], [-43, 2.1], [-36, 2.45], [-32, 2.7], [-35, 2.9], [-48, 2.95], [-55, 2.85]];
const hP3: P[] = [[-18, 2.3], [-5, 2.3], [-10, 2.55], [-14, 2.75], [-10, 3.1], [-22, 3.1]];
const hP4: P[] = [[10, 2.7], [18, 2.3], [30, 2.2], [36, 2.3], [26, 2.55], [40, 2.85], [55, 2.95], [60, 2.8], [52, 2.5], [40, 2.45], [20, 2.75]];
const hBR: P[] = [[46, 2.25], [50, 2], [55, 1.7], [55, .85], [60, .7], [66, .5], [69, .1], [72, -.2], [76, -.1], [72, .8], [77, 1.1], [77, 1.8], [70, 2.1], [62, 2.2], [55, 2.5], [50, 2.6], [47, 2.55]];
const hWJ: P[] = [[55, .35], [59.7, .19], [65, .41], [62.7, .72], [59, .78], [56, .6]];
const hOJ: P[] = [[55, -.5], [57, -.1], [60, 0], [63, -.05], [64, -.5]];
const hOR: P[] = [[78, -.5], [77, -.1], [79, .2], [84, .45], [87, .3], [87, -.5]];
const hP5: P[] = [[66, 2.3], [72, 2.6], [80, 2.5], [88, 2.45], [100, 2.5], [100, 2.75], [85, 2.8], [72, 2.9], [60, 3.1], [50, 3.1], [55, 2.7]];
const hMask: number[][] = [
  [0, -73, -73], [.1, -73, -73], [.3, 66, 70], [.5, 70, 70], [.6, 69, 69], [.7, 5, 8, 72, 72], [.95, 58, 60], [1.05, 76, 76], [1.1, 57, 60], [1.15, 78, 78], [1.2, 57, 57], [1.3, 59, 59], [1.4, 59, 59], [1.5, 59, 59], [1.55, 7, 7], [1.7, 3, 6], [1.75, -9, -9], [1.8, 4, 4], [1.85, 58, 58], [1.9, -12, -12], [1.95, -75, -73, -6, -6],
  [2, -75, -74, 12, 12], [2.1, -75, -70, -66, -62, -47, -47, -16, -16, -9, -9, 13, 13], [2.2, -76, -70, -66, -60, 66, 72], [2.31, -75, -71, -66, -63, -40, -38, -10, -3, 12, 14, 42, 48, 56, 76], [2.41, -80, -59, -54, -32, -18, -15, 13, 22, 45, 82],
  [2.52, -88, 88], [2.62, -88, 88], [2.73, -88, 88], [2.83, -88, 88], [2.94, -88, 88],
];

/* ---------- helpers ---------- */
const toPts = (a: P[]) => a.map(([x, y]) => ({ x, y }));
const toCells = (rows: number[][]) => {
  const seen = new Set<string>();
  const out: { x: number; y: number }[] = [];
  rows.forEach(r => {
    const ky = Math.round(r[0] / 0.105);
    for (let i = 1; i < r.length; i += 2) {
      const k0 = Math.round((r[i] - 1.4) / 2.8), k1 = Math.round((r[i + 1] - 1.4) / 2.8);
      for (let k = k0; k <= k1; k++) {
        const id = k + '_' + ky;
        if (!seen.has(id)) { seen.add(id); out.push({ x: k * 2.8 + 1.4, y: ky * 0.105 }); }
      }
    }
  });
  return out;
};
const isCorner = ([x, y]: P) => y <= -.5 || y >= 3.05 || Math.abs(x) >= 100;
const smooth = (pts: { x: number; y: number }[], closed: boolean, src: P[]) => {
  const n = pts.length;
  const wrap = (i: number) => closed ? (i + n) % n : Math.max(0, Math.min(n - 1, i));
  const tangent = (i: number) => {
    if (closed && isCorner(src[i])) return { x: 0, y: 0 };
    const a = pts[wrap(i - 1)], b = pts[i], c = pts[wrap(i + 1)];
    const dx = c.x - a.x, dy = c.y - a.y, len = Math.hypot(dx, dy) || 1;
    const m = Math.min(Math.hypot(b.x - a.x, b.y - a.y) || Infinity, Math.hypot(c.x - b.x, c.y - b.y) || Infinity);
    const s = (m === Infinity ? 0 : m) * 0.36 / len;
    return { x: dx * s, y: dy * s };
  };
  let d = `M${pts[0].x},${pts[0].y}`;
  const end = closed ? n : n - 1;
  for (let i = 0; i < end; i++) {
    const j = wrap(i + 1), p1 = pts[i], p2 = pts[j], t1 = tangent(i), t2 = tangent(j);
    d += `C${p1.x + t1.x},${p1.y + t1.y} ${p2.x - t2.x},${p2.y - t2.y} ${p2.x},${p2.y}`;
  }
  return d + (closed ? 'Z' : '');
};
const noDot = () => <g />;
const Cell = (p: any) => <rect x={p.cx - 3.62} y={p.cy - 2.82} width={7.24} height={5.64} fill="#808080" fillOpacity={0.44} stroke="#000" strokeOpacity={0.2} strokeWidth={0.6} />;

type Fill = [string, P[]];
type Contour = { pts: P[]; closed?: boolean; dashed?: boolean };
const open = (l: P[][], dashed = false): Contour[] => l.map(pts => ({ pts, dashed }));
const shut = (l: P[][], dashed = false): Contour[] => l.map(pts => ({ pts, closed: true, dashed }));

const YW_L = 80, YW_R = 12, PW = 455, PH = 176, XH = 44;

function Panel({ left, top, fills, lines, mask, labelY, labelX }: { left: number; top: number; fills: Fill[]; lines: Contour[]; mask?: number[][]; labelY: boolean; labelX: boolean }) {
  const yw = labelY ? YW_L : YW_R;
  const yTick = (p: any) => {
    const v = p.payload.value;
    const major = v === 0 || v === 1 || v === 2;
    const len = major ? 7 : 4;
    return <g>
      <line x1={p.x} x2={p.x - len} y1={p.y} y2={p.y} stroke="#000" strokeWidth={major ? 1.3 : 1} />
      {labelY && major && <text x={p.x - 16} y={p.y + 8} textAnchor="end" fontFamily={FONT} fontSize={24} fill="#000">{levelLabels[v]}</text>}
    </g>;
  };
  const xTick = (p: any) => {
    const v = p.payload.value;
    const major = v === 0 || v === 45 || v === -45;
    const len = major ? 7 : 4;
    return <g>
      <line x1={p.x} x2={p.x} y1={p.y} y2={p.y + len} stroke="#000" strokeWidth={major ? 1.3 : 1} />
      {labelX && major && <text x={p.x} y={p.y + 35} textAnchor="middle" fontFamily={FONT} fontSize={24} fill="#000">{latLabels[v]}</text>}
    </g>;
  };
  return (
    <div style={{ position: 'absolute', left: left - yw, top }}>
      <ScatterChart width={PW + yw + 2} height={PH + XH} margin={{ top: 0, right: 2, bottom: 0, left: 0 }}>
        <XAxis dataKey="x" type="number" domain={[-88, 88]} allowDataOverflow ticks={latTicks} interval={0} height={XH} tickLine={false} axisLine={false} tickSize={0} tickMargin={0} tick={xTick} />
        <YAxis dataKey="y" type="number" domain={[-0.31, 2.97]} allowDataOverflow reversed ticks={levelTicks} interval={0} width={yw} tickLine={false} axisLine={false} tickSize={0} tickMargin={0} tick={yTick} />
        {fills.map(([color, poly], i) => (
          <Scatter key={'f' + i} data={toPts(poly)} isAnimationActive={false} shape={noDot} fill={color}
            line={(p: any) => <path d={smooth(p.points, true, poly)} fill={color} stroke={color} strokeWidth={0.3} />} />
        ))}
        {mask && <Scatter data={toCells(mask)} isAnimationActive={false} shape={Cell} />}
        {lines.map((c, i) => (
          <Scatter key={'c' + i} data={toPts(c.pts)} isAnimationActive={false} shape={noDot}
            line={(p: any) => <path d={smooth(p.points, !!c.closed, c.pts)} fill="none" stroke="#000" strokeWidth={1.25} strokeDasharray={c.dashed ? '3.6 2.2' : undefined} />} />
        ))}
        <Scatter data={toPts(FRAME)} isAnimationActive={false} shape={noDot}
          line={(p: any) => <path d={'M' + p.points.map((q: any) => `${q.x},${q.y}`).join('L')} fill="none" stroke="#000" strokeWidth={2.8} />} />
      </ScatterChart>
    </div>
  );
}

function Colorbar({ left, top, height, colors, labels, extLow, extHigh, fontSize = 24 }: { left: number; top: number; height: number; colors: string[]; labels: string[]; extLow?: number; extHigh?: number; fontSize?: number }) {
  const e0 = extLow ?? 0, e1 = extHigh ?? 0, n = colors.length - (e0 ? 1 : 0) - (e1 ? 1 : 0);
  const row: Record<string, number | string> = { c: 'a' };
  const sizes = colors.map((_, i) => (e0 && i === 0) ? e0 : (e1 && i === colors.length - 1) ? e1 : 1);
  sizes.forEach((s, i) => { row['b' + i] = s; });
  const ticks = labels.map((_, i) => e0 + i);
  const pad = 18;
  return (
    <div style={{ position: 'absolute', left, top: top - pad }}>
      <ComposedChart width={72} height={height + 2 * pad} data={[row]} barCategoryGap={0} margin={{ top: pad, bottom: pad, left: 0, right: 0 }}>
        <XAxis dataKey="c" type="category" hide />
        <YAxis yAxisId="v" orientation="right" type="number" domain={[0, e0 + n + e1]} ticks={ticks} interval={0} width={60} tickSize={5} tickMargin={5} axisLine={false}
          tickFormatter={(v: number) => labels[Math.round(v - e0)]} tick={{ fontFamily: FONT, fontSize, fill: '#000' }} tickLine={{ stroke: '#000', strokeWidth: 1.2 }} />
        {colors.map((col, i) => {
          const low = !!e0 && i === 0, high = !!e1 && i === colors.length - 1;
          const isFirst = i === (e0 ? 1 : 0), isLast = i === colors.length - 1 - (e1 ? 1 : 0);
          return <Bar key={i} yAxisId="v" dataKey={'b' + i} stackId="s" isAnimationActive={false} fill={col}
            shape={(p: any) => {
              const { x, y, width: w, height: h } = p;
              if (high) return <polygon points={`${x},${y + h} ${x + w / 2},${y} ${x + w},${y + h}`} fill={col} stroke="#000" strokeWidth={1} />;
              if (low) return <polygon points={`${x},${y} ${x + w / 2},${y + h} ${x + w},${y}`} fill={col} stroke="#000" strokeWidth={1} />;
              return <g>
                <rect x={x} y={y} width={w} height={h} fill={col} />
                <line x1={x} x2={x} y1={y} y2={y + h} stroke="#000" strokeWidth={1.2} />
                <line x1={x + w} x2={x + w} y1={y} y2={y + h} stroke="#000" strokeWidth={1.2} />
                {isFirst && !e0 && <line x1={x} x2={x + w} y1={y + h} y2={y + h} stroke="#000" strokeWidth={1.2} />}
                {isLast && !e1 && <line x1={x} x2={x + w} y1={y} y2={y} stroke="#000" strokeWidth={1.2} />}
              </g>;
            }} />;
        })}
      </ComposedChart>
    </div>
  );
}

function Title({ x, y, width, text, sym, unit }: { x: number; y: number; width: number; text: string; sym: 'T' | 'u'; unit: 'K' | 'ms' }) {
  return (
    <text x={x} y={y} fontFamily={FONT} fontSize={29} fill="#000" textLength={width} lengthAdjust="spacing">
      <tspan>{text + ' \u0394'}</tspan>
      {sym === 'T'
        ? <tspan fontStyle="italic" style={{ textDecoration: 'overline' }}>T</tspan>
        : <tspan fontStyle="italic">{'\u016B'}</tspan>}
      {unit === 'K'
        ? <tspan>{' (K)'}</tspan>
        : <><tspan>{' (m\u2009s'}</tspan><tspan dy={-10} fontSize={20}>{'\u22121'}</tspan><tspan dy={10}>{')'}</tspan></>}
    </text>
  );
}

const L = 86, R = 673;
const ROW = [45, 287, 529, 771];
const tLabels = ['0', '2', '4', '6', '8'];
const tLabelsNeg4 = ['\u22124', '\u22122', '0', '2', '4', '6', '8'];
const tLabelsNeg2 = ['\u22122', '0', '2', '4', '6', '8'];
const uLabelsB = ['\u22121', '0', '1', '2', '5', '10'];
const uLabelsD = ['\u22122', '\u22121', '0', '1', '2', '5', '10'];
const uLabelsF = ['\u221210', '\u22125', '\u22122', '\u22121', '0', '1', '2', '5', '10'];
const uLabelsH = ['\u22125', '\u22122', '\u22121', '0', '1', '2', '5', '10'];

const tALines = open(tAContours);
const uLines = [...open(uOpen), ...shut(uClosed), ...open(uDashOpen, true), ...shut(uDashClosed, true)];
const cLines = [...open([cC1, cC2, cC3, cC4, cC5, cC7, cC8, cC9, cC10]), ...shut([cC6])];
const dLines = [...open([dE1, dE3, dE3b, dU1, dU2, dU3, dU4, dU5, dU6, dU7, dE7, dE8, dE9]), ...shut([dE2, dE4, dTiny]), ...open([dF1, dF2, dF3, dF4, dF5, dF7, dF8], true), ...shut([dF6], true)];

const aFills: Fill[] = [[T_0, FULL], [T_2, a2], [T_4, a4], [T_6, a6]];
const bFills: Fill[] = [[U_0, FULL], [U_N1, bN1], [U_1, b1], [U_2, b2], [U_5, b5], [U_10, b10]];
const cFills: Fill[] = [[T_0, FULL], [T_2, c2UL], [T_2, c2Top], [T_N2, cNTop], [T_N2, cNL], [T_N4, cN2L], [T_N2, cNR], [T_N4, cN2a], [T_N4, cN2b], [T_2, c2], [T_4, c4], [T_6, c6]];
const dFills: Fill[] = [[U_1, FULL], [U_2, d2L], [U_5, d5L], [U_0, d0S], [U_0, d0R], [U_N1, dN1R], [U_2, d2C], [U_5, d5C], [U_10, d10C], [U_5, d5R], [U_0, d0Top], [U_N1, dN1Top], [U_0, d0C], [U_N1, dN1L], [U_N1, dN1Rb], [U_N2, dN2L], [U_N2, dN2R], [U_N1, dN1B]];
const eFills: Fill[] = [[T_0, FULL], [T_N2, eNTop], [T_2, e2Top], [T_N4, eN2Top], [T_2, e2R], [T_N2, eNM], [T_N2, eNR], [T_N2, eNL], [T_0, ePatch], [T_2, e2], [T_4, e4], [T_6, e6]];
const fFills: Fill[] = [[U_0, FULL], [U_N1, fNL1], [U_N1, fNL2], [U_N1, fNR], [U_N2, fN2R], [U_1, f1], [U_2, f2], [U_5, f5], [U_10, f10], [U_5, f5R], [U_0, fW1], [U_N1, fB1], [U_N2, fB2], [U_N5, fB5], [U_N10, fB10], [U_M10, fB11], [U_N1, fLow], [U_0, fW2], [U_N1, fM1], [U_N2, fM2], [U_0, fWL], [U_0, fWR], [U_N2, fML], [U_N2, fMR]];
const gFills: Fill[] = [[T_0, FULL], [T_N2, gNTop], [T_N2, gNLow], [T_N2, gNR], [T_N2, gNRU], [T_N2, gNM], [T_N2, gNE], [T_N2, gNB], [T_2, g2], [T_4, g4], [T_6, g6]];
const hFills: Fill[] = [[U_0, FULL], [U_1, h1], [U_0, hW], [U_2, h2L], [U_5, h5L], [U_2, h2R], [U_5, h5R], [U_N1, hStrip], [U_N1, hB1], [U_N2, hB2L], [U_N5, hB5L], [U_N2, hB2R], [U_N5, hB5R], [U_N1, hP1], [U_N1, hP2], [U_N1, hP3], [U_N1, hP4], [U_N1, hP5], [U_N1, hBR], [U_0, hWJ], [U_1, hOJ], [U_1, hOR]];

export default function App() {
  return (
    <div style={{ position: 'absolute', left: 0, top: 0, width: 1227, height: 986, background: '#fff', overflow: 'hidden' }}>
      <Panel left={L} top={ROW[0]} fills={aFills} lines={tALines} labelY labelX={false} />
      <Panel left={R} top={ROW[0]} fills={bFills} lines={uLines} labelY={false} labelX={false} />
      <Panel left={L} top={ROW[1]} fills={cFills} lines={cLines} mask={cMask} labelY labelX={false} />
      <Panel left={R} top={ROW[1]} fills={dFills} lines={dLines} mask={dMask} labelY={false} labelX={false} />
      <Panel left={L} top={ROW[2]} fills={eFills} lines={tALines} mask={eMask} labelY labelX={false} />
      <Panel left={R} top={ROW[2]} fills={fFills} lines={uLines} mask={fMask} labelY={false} labelX={false} />
      <Panel left={L} top={ROW[3]} fills={gFills} lines={tALines} mask={gMask} labelY labelX />
      <Panel left={R} top={ROW[3]} fills={hFills} lines={uLines} mask={hMask} labelY={false} labelX />

      <Colorbar left={569} top={ROW[0]} height={176} colors={[T_0, T_2, T_4, T_6]} labels={tLabels} />
      <Colorbar left={569} top={ROW[1]} height={176} colors={[T_N4, T_N2, T_0, T_2, T_4, T_6]} labels={tLabelsNeg4} />
      <Colorbar left={569} top={ROW[2]} height={176} colors={[T_N4, T_N2, T_0, T_2, T_4, T_6]} labels={tLabelsNeg4} />
      <Colorbar left={569} top={ROW[3]} height={176} colors={[T_N2, T_0, T_2, T_4, T_6]} labels={tLabelsNeg2} />
      <Colorbar left={1155} top={ROW[0]} height={176} colors={[U_N1, U_0, U_1, U_2, U_5, U_10]} labels={uLabelsB} extHigh={0.33} />
      <Colorbar left={1155} top={ROW[1]} height={176} colors={[U_N2, U_N1, U_0, U_1, U_2, U_5, U_10]} labels={uLabelsD} extHigh={0.4} />
      <Colorbar left={1155} top={ROW[2]} height={176} colors={[U_M10, U_N10, U_N5, U_N2, U_N1, U_0, U_1, U_2, U_5, U_10]} labels={uLabelsF} extLow={0.45} extHigh={0.45} fontSize={21} />
      <Colorbar left={1155} top={ROW[3]} height={176} colors={[U_N5, U_N2, U_N1, U_0, U_1, U_2, U_5, U_10]} labels={uLabelsH} extHigh={0.47} />

      <svg width={1227} height={986} style={{ position: 'absolute', left: 0, top: 0, pointerEvents: 'none' }}>
        <Title x={87} y={32} width={255} text="a) Balanced" sym="T" unit="K" />
        <Title x={673} y={32} width={298} text="b) Balanced" sym="u" unit="ms" />
        <Title x={87} y={274} width={336} text="c) MiMA flat DJF" sym="T" unit="K" />
        <Title x={673} y={274} width={380} text="d) MiMA flat DJF" sym="u" unit="ms" />
        <Title x={87} y={516} width={333} text="e) Dynamical core" sym="T" unit="K" />
        <Title x={673} y={516} width={372} text="f) Dynamical core" sym="u" unit="ms" />
        <Title x={87} y={758} width={314} text="g) Axisymmetric" sym="T" unit="K" />
        <Title x={673} y={758} width={357} text="h) Axisymmetric" sym="u" unit="ms" />
      </svg>
    </div>
  );
}
